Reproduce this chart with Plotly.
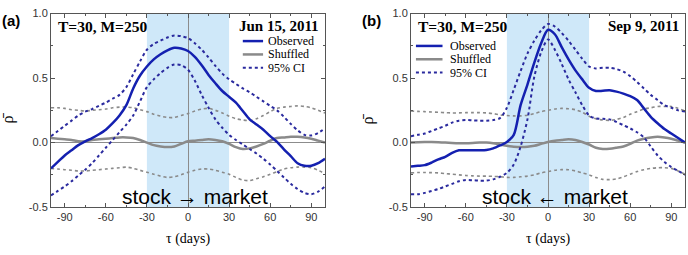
import plotly.graph_objects as go

tau = list(range(-100, 101, 5))

# Panel (a) Jun 15, 2011
obs_a = [-0.20, -0.15, -0.10, -0.06, -0.02, 0.01, 0.035, 0.065, 0.10, 0.15, 0.21, 0.29, 0.42, 0.52, 0.59, 0.645,
         0.685, 0.715, 0.735, 0.73, 0.71, 0.665, 0.60, 0.525, 0.46, 0.40, 0.355, 0.31, 0.245, 0.18, 0.14, 0.10,
         0.05, 0.005, -0.052, -0.105, -0.16, -0.18, -0.18, -0.16, -0.125]
ciu_a = [0.05, 0.09, 0.13, 0.17, 0.21, 0.24, 0.26, 0.285, 0.31, 0.34, 0.37, 0.43, 0.53, 0.63, 0.72, 0.765,
         0.79, 0.815, 0.83, 0.825, 0.81, 0.77, 0.72, 0.66, 0.595, 0.535, 0.49, 0.455, 0.42, 0.39, 0.355, 0.32,
         0.285, 0.25, 0.20, 0.145, 0.095, 0.06, 0.055, 0.075, 0.11]
cil_a = [-0.41, -0.375, -0.34, -0.30, -0.255, -0.21, -0.16, -0.10, -0.04, 0.02, 0.08, 0.14, 0.21, 0.32, 0.43, 0.49,
         0.54, 0.58, 0.605, 0.60, 0.565, 0.48, 0.37, 0.27, 0.18, 0.115, 0.06, 0.02, -0.015, -0.05, -0.085, -0.125,
         -0.17, -0.22, -0.27, -0.32, -0.36, -0.39, -0.40, -0.38, -0.34]
shf_a = [0.035, 0.03, 0.025, 0.02, 0.01, 0.01, 0.02, 0.025, 0.03, 0.035, 0.04, 0.04, 0.035, 0.02, 0.0, -0.02,
         -0.03, -0.035, -0.03, -0.01, 0.01, 0.015, 0.02, 0.025, 0.02, 0.01, -0.01, -0.035, -0.05, -0.045, -0.03, -0.01,
         0.015, 0.035, 0.04, 0.045, 0.045, 0.04, 0.03, 0.015, 0.0]
scu_a = [0.27, 0.27, 0.265, 0.255, 0.25, 0.245, 0.25, 0.255, 0.26, 0.27, 0.275, 0.275, 0.27, 0.255, 0.24, 0.22,
         0.205, 0.195, 0.195, 0.21, 0.225, 0.245, 0.26, 0.265, 0.25, 0.23, 0.205, 0.185, 0.175, 0.17, 0.185, 0.21,
         0.24, 0.265, 0.275, 0.28, 0.285, 0.28, 0.27, 0.25, 0.23]
scl_a = [-0.20, -0.205, -0.21, -0.215, -0.22, -0.22, -0.215, -0.21, -0.205, -0.2, -0.195, -0.19, -0.2, -0.215, -0.23,
         -0.245, -0.26, -0.27, -0.265, -0.25, -0.23, -0.215, -0.205, -0.205, -0.215, -0.23, -0.245, -0.27, -0.29,
         -0.295, -0.28, -0.265, -0.245, -0.225, -0.205, -0.195, -0.19, -0.19, -0.195, -0.215, -0.24]

# Panel (b) Sep 9, 2011
obs_b = [-0.185, -0.18, -0.175, -0.155, -0.13, -0.11, -0.08, -0.06, -0.06, -0.06, -0.06, -0.058, -0.045, -0.022,
         0.005, 0.06, 0.29, 0.45, 0.62, 0.77, 0.875, 0.84, 0.74, 0.645, 0.56, 0.49, 0.425, 0.40, 0.402, 0.405,
         0.395, 0.38, 0.36, 0.33, 0.265, 0.20, 0.15, 0.105, 0.07, 0.035, 0.0]
ciu_b = [0.05, 0.06, 0.07, 0.09, 0.11, 0.13, 0.155, 0.17, 0.175, 0.172, 0.17, 0.17, 0.175, 0.19, 0.27, 0.41,
         0.555, 0.69, 0.79, 0.87, 0.92, 0.90, 0.85, 0.79, 0.72, 0.65, 0.59, 0.575, 0.58, 0.58, 0.57, 0.55,
         0.515, 0.47, 0.42, 0.37, 0.33, 0.29, 0.27, 0.25, 0.24]
cil_b = [-0.40, -0.40, -0.39, -0.375, -0.36, -0.34, -0.32, -0.30, -0.29, -0.292, -0.295, -0.295, -0.285, -0.265,
         -0.235, -0.17, -0.03, 0.18, 0.51, 0.70, 0.80, 0.72, 0.61, 0.49, 0.39, 0.29, 0.21, 0.187, 0.185, 0.18,
         0.16, 0.135, 0.11, 0.08, 0.04, -0.03, -0.10, -0.15, -0.19, -0.22, -0.25]
shf_b = [0.0, 0.003, 0.005, 0.005, 0.003, 0.0, -0.003, -0.005, -0.005, -0.003, 0.0, 0.0, -0.005, -0.015, -0.025,
         -0.032, -0.035, -0.033, -0.025, -0.01, 0.005, 0.015, 0.02, 0.025, 0.02, 0.005, -0.015, -0.04, -0.05,
         -0.048, -0.04, -0.03, -0.01, 0.015, 0.03, 0.04, 0.045, 0.04, 0.03, 0.015, 0.0]
scu_b = [0.245, 0.242, 0.24, 0.237, 0.235, 0.232, 0.23, 0.23, 0.232, 0.232, 0.232, 0.23, 0.225, 0.215, 0.21, 0.207,
         0.207, 0.212, 0.225, 0.24, 0.25, 0.26, 0.265, 0.262, 0.255, 0.235, 0.205, 0.185, 0.175, 0.172, 0.18, 0.195,
         0.22, 0.24, 0.26, 0.27, 0.28, 0.28, 0.28, 0.265, 0.245]
scl_b = [-0.235, -0.232, -0.232, -0.233, -0.235, -0.24, -0.245, -0.25, -0.255, -0.258, -0.26, -0.26, -0.262, -0.265,
         -0.27, -0.27, -0.265, -0.26, -0.25, -0.235, -0.225, -0.215, -0.21, -0.21, -0.22, -0.235, -0.25, -0.27,
         -0.285, -0.287, -0.282, -0.265, -0.245, -0.225, -0.21, -0.2, -0.195, -0.195, -0.2, -0.22, -0.245]

window = [-30, 30]
x_ticks = [-90, -60, -30, 0, 30, 60, 90]
x_ticktext = ["-90", "-60", "-30", "0", "30", "60", "90"]
x_minor = [-75, -45, -15, 15, 45, 75]
y_ticks = [-0.5, 0.0, 0.5, 1.0]
y_ticktext = ["-0.5", "0.0", "0.5", "1.0"]
y_minor = [-0.25, 0.25, 0.75]
legend_names = ["Observed", "Shuffled", "95% CI"]

panels = [
    dict(obs=obs_a, ciu=ciu_a, cil=cil_a, shf=shf_a, scu=scu_a, scl=scl_a, date="Jun 15, 2011",
         label="(a)", arrow="stock \u2192 market",
         leg_x=(0.70, 0.774, 0.788), leg_y=(0.858, 0.789, 0.720)),
    dict(obs=obs_b, ciu=ciu_b, cil=cil_b, shf=shf_b, scu=scu_b, scl=scl_b, date="Sep 9, 2011",
         label="(b)", arrow="stock \u2190 market",
         leg_x=(0.018, 0.115, 0.137), leg_y=(0.833, 0.764, 0.695)),
]

BLUE = "#1420b0"
BLUE_CI = "#2a2a9e"
GRAY = "#8a8a8a"
SERIF = "Liberation Serif"
SANS = "Liberation Sans"

W, H = 688, 255
dom_x = [[51 / W, 325 / W], [411 / W, 685 / W]]
dom_y = [1 - 211 / H, 1 - 8 / H]

fig = go.Figure()
shapes = []
annotations = []

for i, p in enumerate(panels):
    xa = "x" if i == 0 else "x2"
    ya = "y" if i == 0 else "y2"
    spl = dict(shape="spline", smoothing=0.8)
    fig.add_trace(go.Scatter(x=tau, y=p["scu"], xaxis=xa, yaxis=ya, mode="lines", showlegend=False,
                             line=dict(color=GRAY, width=1.6, dash="dot", **spl)))
    fig.add_trace(go.Scatter(x=tau, y=p["scl"], xaxis=xa, yaxis=ya, mode="lines", showlegend=False,
                             line=dict(color=GRAY, width=1.6, dash="dot", **spl)))
    fig.add_trace(go.Scatter(x=tau, y=p["shf"], xaxis=xa, yaxis=ya, mode="lines", showlegend=False,
                             line=dict(color=GRAY, width=2.5, **spl)))
    fig.add_trace(go.Scatter(x=tau, y=p["ciu"], xaxis=xa, yaxis=ya, mode="lines", showlegend=False,
                             line=dict(color=BLUE_CI, width=2, dash="dot", **spl)))
    fig.add_trace(go.Scatter(x=tau, y=p["cil"], xaxis=xa, yaxis=ya, mode="lines", showlegend=False,
                             line=dict(color=BLUE_CI, width=2, dash="dot", **spl)))
    fig.add_trace(go.Scatter(x=tau, y=p["obs"], xaxis=xa, yaxis=ya, mode="lines", showlegend=False,
                             line=dict(color=BLUE, width=2.5, **spl)))

    xd = xa + " domain"
    yd = ya + " domain"
    shapes.append(dict(type="rect", xref=xa, yref=yd, x0=window[0], x1=window[1], y0=0, y1=1,
                       fillcolor="#cfe8f9", line=dict(width=0), layer="below"))

    # legend keys
    styles = [dict(color=BLUE, width=2.5), dict(color=GRAY, width=2.5), dict(color=BLUE_CI, width=2, dash="dot")]
    lx0, lx1, tx = p["leg_x"]
    for name, st, ly in zip(legend_names, styles, p["leg_y"]):
        shapes.append(dict(type="line", xref=xd, yref=yd, x0=lx0, x1=lx1, y0=ly, y1=ly, line=st, layer="above"))
        annotations.append(dict(xref=xd, yref=yd, x=tx, y=ly, xanchor="left", yanchor="middle", showarrow=False,
                                text=name, height=12, borderpad=0,
                                font=dict(family=SERIF, size=12, color="black")))

    annotations += [
        dict(xref=xd, yref=yd, x=0.018, y=0.99, xanchor="left", yanchor="top", showarrow=False,
             text="<b>T=30, M=250</b>", font=dict(family=SERIF, size=15.5, color="black")),
        dict(xref=xd, yref=yd, x=0.985, y=0.99, xanchor="right", yanchor="top", showarrow=False,
             text="<b>%s</b>" % p["date"], font=dict(family=SERIF, size=15, color="black")),
        dict(xref=xd, yref=yd, x=0.527, y=0.055, xanchor="center", yanchor="middle", showarrow=False,
             text=p["arrow"], font=dict(family=SANS, size=21, color="black")),
        dict(xref=xd, yref="paper", x=0.5, y=1 - 245 / H, xanchor="center", yanchor="middle", showarrow=False,
             text="\u03c4 (days)", font=dict(family=SERIF, size=14, color="black")),
    ]
    left_px = 51 if i == 0 else 411
    annotations += [
        dict(xref="paper", yref="paper", x=(left_px - 51) / W, y=1 - 15 / H, xanchor="left", yanchor="middle",
             showarrow=False, text="<b>%s</b>" % p["label"], font=dict(family=SANS, size=15, color="black")),
        dict(xref="paper", yref="paper", x=(left_px - 43) / W, y=1 - 118 / H, xanchor="center", yanchor="middle",
             showarrow=False, textangle=-90, text="\u03c1\u0304", font=dict(family=SERIF, size=16, color="black")),
    ]

axis_common = dict(showline=True, mirror="ticks", linecolor="#555", linewidth=1, ticks="inside", ticklen=4,
                   tickcolor="#555", showgrid=False, tickfont=dict(family=SANS, size=11, color="#333"))

for i in range(2):
    sx = "" if i == 0 else "2"
    fig.update_layout(**{
        "xaxis" + sx: dict(domain=dom_x[i], range=[-100, 100], tickvals=x_ticks, ticktext=x_ticktext,
                           zeroline=True, zerolinecolor="#8c8c8c", zerolinewidth=1,
                           minor=dict(tickvals=x_minor, ticks="inside", ticklen=2, tickcolor="#555"),
                           anchor="y" + sx, **axis_common),
        "yaxis" + sx: dict(domain=dom_y, range=[-0.5, 1.0], tickvals=y_ticks, ticktext=y_ticktext,
                           zeroline=True, zerolinecolor="#8c8c8c", zerolinewidth=1,
                           minor=dict(tickvals=y_minor, ticks="inside", ticklen=2, tickcolor="#555"),
                           anchor="x" + sx, **axis_common),
    })

fig.update_layout(
    width=W, height=H, margin=dict(l=0, r=0, t=0, b=0),
    paper_bgcolor="white", plot_bgcolor="white", showlegend=False,
    shapes=shapes, annotations=annotations,
)

fig.write_html("out.html", config={"displayModeBar": False},
               post_script="document.body.style.margin='0';document.body.style.overflow='hidden';")
